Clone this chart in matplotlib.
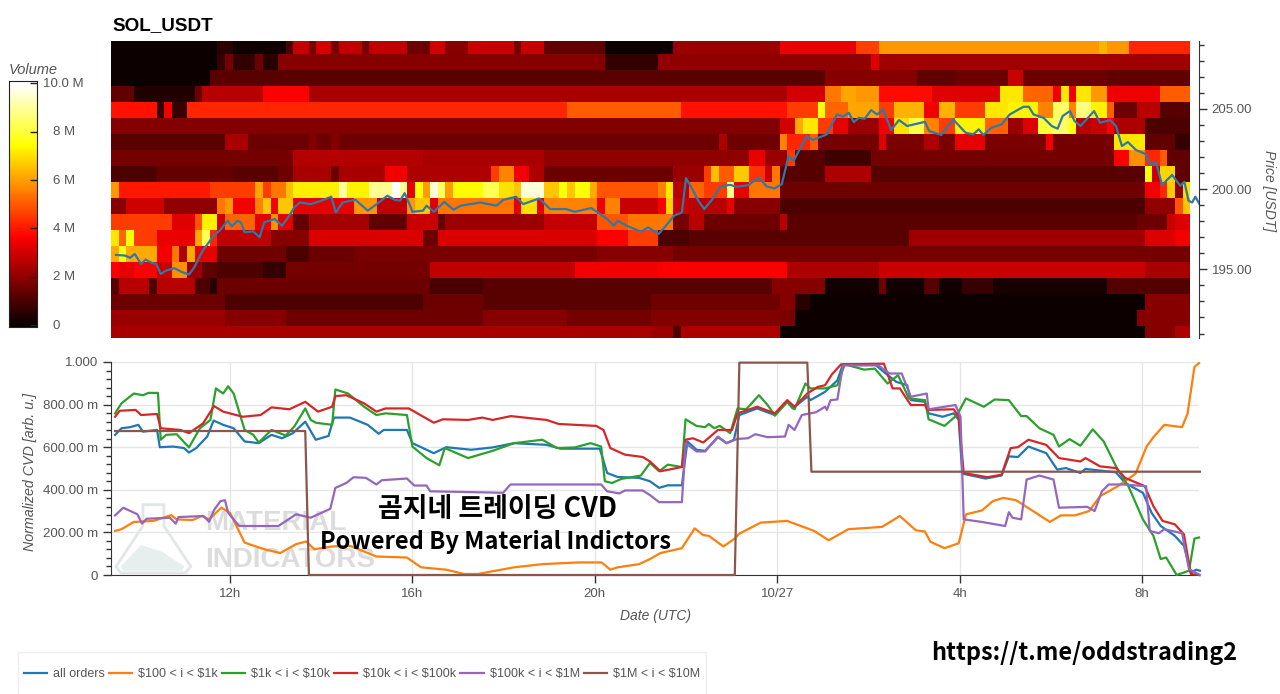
import numpy as np
import matplotlib
matplotlib.use("Agg")
import matplotlib.pyplot as plt
from matplotlib.lines import Line2D
from matplotlib.patches import Polygon, Rectangle
from matplotlib.ticker import FixedLocator, MultipleLocator
from matplotlib.transforms import ScaledTranslation

plt.rcParams['font.family'] = ['Liberation Sans', 'DejaVu Sans']

W, H = 1280, 694

# heatmap: each row is (first 10 min bin, volume in M) runs, 142 bins in all
n_bins = 142
bin_hours = 10 / 60
start_hour = 9.39
end_hour = 33.25
row_209 = [(0, .07), (14, .5), (16, .1), (23, 1.0), (24, 2.8), (26, 1.7), (27, 3.0), (29, 1.6), (30, 2.7), (33, 1.6), (34, 2.7), (39, 1.45), (42, 3.0), (44, 1.9), (47, 2.85), (53, 1.6), (54, 2.85), (57, 1.3), (65, .07), (74, 2.15), (88, 3.35), (98, 4.6), (101, 5.9), (130, 6.3), (131, 5.9), (134, 4.2)]
row_208 = [(0, .07), (14, .7), (15, 1.6), (16, .6), (19, 1.45), (20, .45), (22, 1.85), (65, .6), (72, 2.0), (100, 3.15), (101, 2.25)]
row_207 = [(0, .07), (13, 1.2), (94, 1.85), (106, 1.3), (111, 1.45), (118, 2.85), (120, 1.45), (131, 1.3)]
row_206 = [(0, 1.3), (3, .35), (11, 1.45), (12, 2.6), (20, 3.6), (26, 2.35), (89, 3.0), (94, 5.4), (96, 6.1), (98, 5.9), (101, 3.8), (108, 3.2), (112, 3.15), (117, 7.1), (120, 5.15), (124, 3.45), (125, 7.1), (126, 3.45), (127, 7.1), (129, 5.9), (131, 3.45), (132, 3.4), (138, 5.0)]
row_205 = [(0, 3.9), (6, .7), (7, 3.45), (8, .7), (10, 4.2), (60, 5.0), (75, 3.9), (89, 4.55), (93, 7.5), (94, 5.15), (97, 6.1), (101, 4.55), (103, 6.3), (107, 3.45), (109, 6.3), (111, 4.55), (115, 7.1), (118, 7.3), (122, 5.6), (124, 8.45), (126, 5.6), (127, 8.7), (129, 7.3), (131, 5.0), (132, 1.45), (135, 2.6), (138, 1.15)]
row_204 = [(0, 1.8), (88, 3.0), (90, 6.2), (91, 7.1), (93, 4.55), (95, 3.3), (97, 2.15), (101, 3.45), (103, 7.0), (105, 8.2), (107, 5.6), (109, 4.55), (111, 7.3), (115, 5.15), (118, 2.15), (120, 3.15), (122, 8.0), (124, 8.45), (126, 7.5), (127, 2.6), (129, 2.85), (131, 3.6), (132, 2.45), (136, 1.0)]
row_203 = [(0, 1.2), (15, 2.35), (18, 1.45), (26, 1.8), (27, 1.45), (29, 1.8), (30, 1.45), (80, 2.45), (81, 1.5), (88, 5.6), (89, 4.2), (92, 5.0), (93, 1.6), (101, 3.15), (102, 1.7), (107, 2.45), (109, 1.7), (111, 3.3), (115, 1.7), (123, 3.45), (124, 1.6), (132, 7.1), (136, 1.3), (140, .7)]
row_202 = [(0, 1.6), (24, 2.5), (41, 2.35), (57, 2.0), (84, 3.3), (86, 2.15), (89, 4.55), (90, 1.15), (94, .8), (100, 1.6), (132, 3.6), (134, 5.8), (136, 4.2), (138, 5.0), (139, 1.3)]
row_201 = [(0, 1.0), (6, 1.35), (16, 1.2), (22, 1.5), (24, 2.35), (29, 1.45), (30, 2.35), (36, 3.45), (39, 2.45), (50, 4.55), (51, 5.6), (53, 3.45), (55, 2.45), (57, 1.45), (74, 2.15), (78, 4.55), (79, 6.5), (80, 5.0), (82, 6.65), (84, 4.4), (86, 2.85), (87, 5.4), (88, 1.15), (94, 2.45), (100, 1.2), (136, 7.5), (137, 2.85), (138, 6.8), (140, 1.3)]
row_200 = [(0, 5.9), (1, 4.0), (13, 4.55), (19, 6.1), (20, 4.55), (21, 5.4), (23, 6.5), (24, 7.2), (30, 9.0), (31, 7.3), (34, 8.9), (37, 10.0), (38, 8.9), (39, 3.3), (40, 7.5), (41, 6.0), (42, 9.6), (43, 8.4), (44, 6.0), (45, 7.4), (49, 8.3), (51, 7.0), (53, 6.6), (54, 9.6), (57, 6.6), (59, 7.5), (60, 6.6), (61, 7.5), (63, 6.2), (64, 4.9), (72, 5.6), (73, 7.1), (74, 2.6), (76, 5.15), (78, 4.55), (81, 8.8), (82, 3.3), (84, 5.4), (88, 1.5), (136, 3.45), (138, 4.2), (139, 6.65), (140, 2.0), (141, 7.0)]
row_199 = [(0, 1.85), (2, 2.95), (7, 2.0), (14, 5.4), (15, 5.9), (16, 3.5), (19, 5.6), (20, 6.6), (21, 3.45), (22, 6.6), (24, 3.3), (32, 5.9), (35, 2.7), (39, 5.9), (40, 6.6), (42, 3.15), (43, 5.4), (53, 3.3), (54, 7.0), (56, 3.3), (57, 5.6), (64, 3.45), (65, 5.6), (67, 2.85), (72, 3.6), (73, 6.8), (74, 2.85), (76, 2.6), (81, 3.3), (82, 1.85), (88, 1.0), (136, 2.0), (140, 4.9), (141, 6.6)]
row_198 = [(0, 4.55), (8, 3.2), (11, 4.9), (12, 7.2), (14, 2.85), (15, 5.15), (19, 3.3), (21, 5.8), (22, 3.3), (24, 1.35), (26, 2.3), (34, 1.3), (39, 2.85), (43, 1.35), (44, 2.15), (57, 2.8), (64, 4.9), (68, 5.4), (74, 1.6), (76, 2.6), (78, 1.45), (88, 2.6), (89, 1.2), (135, 1.45), (139, 2.85), (140, 3.15)]
row_197 = [(0, 7.1), (1, 5.15), (2, 7.5), (3, 4.55), (6, 3.35), (11, 6.2), (12, 8.3), (13, 4.2), (14, 2.7), (21, 1.85), (26, 3.1), (41, 1.45), (43, 3.1), (64, 3.6), (68, 4.55), (72, 1.0), (76, 1.2), (105, 2.2), (136, 3.15), (140, 3.45)]
row_196 = [(0, 6.2), (1, 7.5), (2, 6.2), (6, 3.5), (8, 5.4), (9, 2.45), (10, 6.2), (11, 3.3), (14, 1.5), (23, 1.0), (26, 1.45), (32, 1.65), (64, 1.85), (74, 1.6)]
row_195 = [(0, 3.6), (1, 3.3), (3, 3.6), (6, 2.85), (8, 5.8), (10, 2.15), (12, 1.3), (14, 1.0), (20, .7), (23, 1.6), (42, 2.7), (61, 3.45), (72, 3.6), (89, 2.45), (101, 2.85), (136, 2.35)]
row_194 = [(0, 1.15), (1, 2.6), (5, 1.0), (6, 2.6), (11, 1.0), (13, .43), (14, 1.45), (42, .95), (49, 1.2), (87, 1.85), (94, .15), (101, 1.45), (102, .15), (107, 1.15), (109, .15), (112, .7), (116, .2), (131, 1.1)]
row_193 = [(0, 1.45), (15, 1.0), (41, 1.45), (49, 1.2), (71, 1.5), (88, 1.85), (90, .43), (92, .07), (136, 1.85)]
row_192 = [(0, 2.15), (15, 1.85), (23, 1.5), (49, 1.85), (60, 1.6), (71, 1.8), (88, 1.7), (90, .07), (135, 1.85)]
row_191 = [(0, 2.35), (71, 2.15), (74, 1.0), (75, 2.45), (88, .07), (136, 1.85), (140, 2.45)]
heat_rows = [row_191, row_192, row_193, row_194, row_195, row_196, row_197, row_198, row_199, row_200,
             row_201, row_202, row_203, row_204, row_205, row_206, row_207, row_208, row_209]
price_levels = np.arange(191, 210)

# price line
price_t = [9.50, 9.70, 9.81, 9.91, 10.05, 10.15, 10.28, 10.38, 10.48, 10.60, 10.78, 10.95, 11.10, 11.22, 11.38, 11.64, 11.77, 11.95, 12.04, 12.16, 12.24, 12.32, 12.51, 12.65, 12.75, 12.98, 13.14, 13.30, 13.41, 13.53, 13.77, 14.0, 14.22, 14.32, 14.47, 14.75, 15.02, 15.22, 15.45, 15.61, 15.73, 15.83, 15.92, 16.0, 16.23, 16.31, 16.47, 16.70, 16.90, 17.06, 17.49, 17.84, 18.0, 18.27, 18.43, 18.78, 19.02, 19.37, 19.56, 19.92, 20.07, 20.27, 20.42, 20.50, 20.70, 21.01, 21.17, 21.40, 21.56, 21.74, 21.91, 22.0, 22.14, 22.27, 22.40, 22.58, 22.75, 22.97, 23.10, 23.37, 23.59, 23.77, 23.94, 24.10, 24.25, 24.36, 24.51, 24.65, 24.78, 25.09, 25.31, 25.44, 25.57, 25.68, 25.79, 25.92, 26.06, 26.19, 26.32, 26.50, 26.67, 26.85, 27.24, 27.33, 27.60, 27.86, 28.13, 28.30, 28.42, 28.52, 28.70, 28.92, 29.10, 29.40, 29.52, 29.62, 29.84, 30.02, 30.15, 30.26, 30.42, 30.52, 30.65, 30.95, 31.08, 31.30, 31.43, 31.56, 31.69, 31.87, 32.09, 32.18, 32.31, 32.44, 32.53, 32.66, 32.84, 32.93, 33.02, 33.10, 33.17, 33.26]
price_v = [195.90, 195.86, 195.72, 195.96, 195.34, 195.61, 195.41, 195.34, 194.72, 194.93, 195.07, 194.83, 194.68, 195.14, 196.07, 197.10, 197.41, 198.03, 197.68, 198.03, 197.93, 197.31, 197.37, 197.0, 197.93, 198.14, 197.72, 198.35, 198.86, 199.17, 199.07, 199.28, 199.53, 198.55, 199.17, 199.34, 198.66, 199.07, 199.59, 199.34, 199.28, 199.75, 199.17, 198.59, 198.66, 198.97, 198.59, 199.21, 198.72, 198.97, 199.17, 198.97, 199.34, 199.53, 199.07, 199.42, 198.76, 198.76, 198.59, 198.82, 198.55, 198.14, 197.72, 198.03, 197.72, 197.35, 197.62, 197.21, 197.72, 198.35, 198.55, 200.69, 200.0, 199.28, 198.76, 199.38, 200.17, 200.27, 200.15, 200.25, 200.73, 200.17, 200.04, 200.31, 202.07, 201.76, 202.59, 203.31, 203.07, 203.42, 204.66, 204.52, 204.76, 204.18, 204.45, 204.39, 204.93, 204.66, 204.97, 203.69, 204.31, 203.94, 204.2, 203.63, 203.38, 204.35, 203.52, 203.42, 203.73, 203.38, 203.83, 204.04, 204.66, 205.14, 205.14, 204.66, 204.45, 203.94, 203.77, 204.56, 204.87, 204.25, 203.94, 204.87, 204.14, 204.31, 203.94, 202.69, 202.94, 202.44, 202.18, 201.55, 201.66, 200.25, 200.52, 200.89, 200.21, 200.46, 199.28, 199.17, 199.53, 199.07]

# normalized CVD series
all_t = [9.48, 9.62, 9.81, 9.99, 10.09, 10.40, 10.46, 10.75, 10.99, 11.10, 11.26, 11.50, 11.64, 11.85, 12.08, 12.32, 12.63, 12.91, 13.14, 13.38, 13.65, 13.88, 14.16, 14.28, 14.63, 15.02, 15.26, 15.37, 15.88, 16.0, 16.47, 16.74, 17.29, 17.76, 18.23, 18.94, 19.25, 20.11, 20.27, 20.50, 20.97, 21.21, 21.41, 21.60, 21.91, 22.03, 22.23, 22.42, 22.70, 22.89, 23.05, 23.17, 23.56, 23.95, 24.22, 24.34, 24.66, 24.73, 25.05, 25.32, 25.44, 26.14, 26.38, 26.61, 26.85, 26.93, 27.24, 27.32, 27.63, 27.87, 27.98, 28.06, 28.57, 28.92, 29.08, 29.28, 29.51, 29.90, 30.14, 30.33, 30.65, 30.76, 31.43, 31.63, 32.02, 32.21, 32.41, 32.72, 32.92, 33.07, 33.19, 33.27]
all_v = [.658, .689, .694, .705, .673, .681, .600, .603, .596, .575, .596, .650, .725, .705, .689, .627, .619, .658, .642, .666, .720, .635, .653, .739, .739, .705, .663, .681, .681, .619, .572, .600, .588, .599, .619, .611, .593, .593, .479, .460, .456, .440, .409, .421, .421, .627, .588, .583, .647, .619, .635, .751, .782, .751, .813, .782, .837, .821, .860, .914, .989, .989, .946, .907, .891, .821, .813, .759, .743, .759, .728, .476, .453, .467, .557, .554, .603, .572, .495, .502, .479, .498, .482, .432, .386, .292, .230, .184, .137, .012, .025, .02]
k1_t = [9.48, 9.62, 9.89, 10.32, 10.71, 10.83, 11.18, 11.38, 11.54, 11.81, 12.0, 12.32, 12.75, 13.10, 13.45, 13.67, 13.85, 14.24, 14.63, 15.21, 15.88, 16.19, 16.74, 17.13, 17.44, 18.23, 18.85, 19.64, 20.15, 20.34, 20.50, 20.97, 21.21, 21.44, 21.91, 22.19, 22.38, 22.50, 22.82, 23.05, 23.17, 23.64, 24.22, 24.81, 25.13, 25.56, 26.30, 26.69, 27.04, 27.24, 27.36, 27.67, 27.98, 28.14, 28.49, 28.73, 28.96, 29.24, 29.67, 29.98, 30.22, 30.53, 30.84, 31.08, 31.47, 31.86, 32.10, 32.25, 32.49, 32.88, 33.0, 33.15, 33.25]
k1_v = [.207, .215, .249, .254, .281, .261, .258, .277, .261, .316, .292, .152, .121, .103, .145, .157, .121, .134, .137, .087, .082, .036, .025, .005, .005, .036, .051, .059, .059, .025, .036, .051, .075, .103, .126, .219, .187, .184, .134, .168, .194, .246, .254, .207, .163, .215, .226, .277, .21, .204, .156, .126, .149, .285, .303, .347, .362, .351, .292, .249, .28, .28, .30, .37, .417, .476, .603, .647, .705, .694, .759, .977, .995]
k10_t = [9.48, 9.62, 9.89, 10.09, 10.21, 10.42, 10.48, 10.60, 10.83, 11.10, 11.34, 11.57, 11.69, 11.85, 11.96, 12.08, 12.32, 12.51, 12.63, 12.91, 13.22, 13.41, 13.65, 13.77, 13.88, 14.24, 14.31, 14.59, 14.94, 15.21, 15.41, 15.88, 16.0, 16.31, 16.59, 16.71, 17.22, 17.76, 18.23, 18.85, 19.17, 19.56, 19.91, 20.14, 20.22, 20.38, 20.58, 21.01, 21.21, 21.41, 21.60, 21.91, 21.99, 22.23, 22.42, 22.5, 22.62, 22.74, 22.97, 23.13, 23.32, 23.60, 23.79, 23.95, 24.22, 24.38, 24.62, 24.73, 25.05, 25.32, 25.48, 25.91, 26.14, 26.42, 26.65, 26.89, 27.24, 27.32, 27.67, 27.94, 28.14, 28.53, 28.77, 29.08, 29.35, 29.47, 29.75, 30.06, 30.18, 30.41, 30.65, 30.92, 31.16, 31.43, 31.70, 32.02, 32.25, 32.41, 32.53, 32.76, 33.03, 33.15, 33.25]
k10_v = [.759, .806, .852, .844, .855, .855, .635, .658, .661, .599, .689, .728, .876, .852, .886, .852, .681, .658, .622, .681, .655, .697, .782, .728, .715, .705, .871, .852, .790, .751, .759, .751, .603, .549, .515, .596, .549, .583, .619, .635, .596, .599, .619, .603, .440, .432, .451, .467, .526, .487, .518, .507, .731, .70, .694, .709, .689, .70, .666, .782, .778, .844, .798, .748, .813, .778, .899, .876, .876, .891, .989, .964, .969, .899, .938, .829, .821, .731, .70, .751, .829, .79, .824, .821, .746, .746, .689, .658, .603, .638, .607, .684, .627, .51, .417, .261, .184, .075, .082, 0, .02, .171, .176]
k100_t = [9.48, 9.58, 9.93, 10.05, 10.40, 10.48, 10.91, 11.10, 11.41, 11.65, 11.85, 12.28, 12.67, 12.91, 13.30, 13.65, 13.93, 14.24, 14.31, 14.55, 14.94, 15.21, 15.41, 15.92, 16.47, 16.67, 17.22, 17.53, 17.76, 18.16, 18.94, 19.21, 20.03, 20.19, 20.34, 20.66, 21.05, 21.21, 21.44, 21.91, 21.99, 22.15, 22.38, 22.70, 23.01, 23.13, 23.56, 23.95, 24.22, 24.38, 24.66, 24.89, 25.05, 25.20, 25.40, 26.34, 26.53, 26.69, 26.93, 27.24, 27.30, 27.87, 27.98, 28.09, 28.61, 28.92, 29.12, 29.28, 29.51, 29.90, 30.18, 30.65, 30.76, 31.08, 31.43, 31.63, 32.06, 32.25, 32.45, 32.72, 32.92, 33.07, 33.25]
k100_v = [.743, .771, .775, .751, .756, .689, .681, .666, .712, .793, .767, .743, .751, .787, .778, .813, .767, .79, .84, .844, .806, .767, .782, .782, .715, .731, .728, .739, .728, .746, .728, .709, .70, .681, .596, .565, .554, .533, .487, .507, .635, .642, .622, .681, .681, .759, .79, .759, .821, .79, .852, .883, .891, .942, .989, .992, .876, .876, .798, .798, .775, .778, .743, .479, .459, .471, .596, .60, .635, .611, .549, .533, .549, .51, .502, .456, .417, .323, .254, .238, .191, .005, 0]
m1_t = [9.48, 9.66, 9.97, 10.07, 10.17, 10.68, 10.81, 10.87, 11.42, 11.54, 11.65, 11.79, 11.89, 11.96, 12.20, 13.06, 13.45, 13.77, 14.20, 14.31, 14.55, 14.71, 14.98, 15.21, 15.33, 15.88, 16.04, 16.31, 16.39, 17.99, 18.15, 20.14, 20.27, 20.54, 20.66, 21.05, 21.21, 21.41, 21.91, 21.99, 22.23, 22.42, 22.70, 22.89, 23.13, 23.36, 23.52, 23.79, 24.17, 24.25, 24.38, 24.54, 24.85, 25.05, 25.09, 25.17, 25.32, 25.44, 26.22, 26.46, 26.73, 26.93, 27.28, 27.32, 27.91, 28.02, 28.09, 28.49, 29.0, 29.08, 29.16, 29.35, 29.47, 29.75, 30.06, 30.18, 30.80, 30.96, 31.12, 31.27, 31.59, 32.09, 32.17, 32.37, 32.49, 32.88, 33.03, 33.27]
m1_v = [.28, .316, .285, .241, .264, .269, .241, .272, .277, .25, .305, .347, .351, .292, .23, .23, .285, .269, .311, .409, .432, .459, .456, .425, .445, .453, .42, .42, .393, .386, .425, .425, .393, .383, .397, .397, .375, .342, .342, .619, .58, .58, .65, .619, .639, .642, .661, .647, .65, .705, .681, .751, .764, .79, .775, .821, .824, .984, .984, .946, .946, .837, .852, .778, .798, .743, .261, .249, .23, .295, .269, .261, .448, .467, .448, .316, .32, .30, .393, .425, .425, .417, .207, .196, .215, .196, .028, 0]
m10_t = [9.48, 13.65, 13.73, 23.07, 23.17, 24.66, 24.75, 33.27]
m10_v = [.676, .676, 0, 0, .997, .997, .485, .485]

series_names = ['all orders', r'\$100 < i < \$1k', r'\$1k < i < \$10k', r'\$10k < i < \$100k',
                r'\$100k < i < \$1M', r'\$1M < i < \$10M']
series_colors = ['#1f77b4', '#ff7f0e', '#2ca02c', '#d62728', '#9467bd', '#8c564b']
series_data = [(all_t, all_v), (k1_t, k1_v), (k10_t, k10_v), (k100_t, k100_v), (m1_t, m1_v), (m10_t, m10_v)]

hour_ticks = [12, 16, 20, 24, 28, 32]
hour_labels = ['12h', '16h', '20h', '10/27', '4h', '8h']
cvd_ticks = [0, .2, .4, .6, .8, 1.0]
cvd_labels = ['0', '200.00 m', '400.00 m', '600.00 m', '800.00 m', '1.000']
cbar_ticks = [0, 2, 4, 6, 8, 10]
cbar_labels = ['0', '2 M', '4 M', '6 M', '8 M', '10.0 M']


def px_axes(fig, left, top, right, bottom):
    return fig.add_axes([left / W, 1 - bottom / H, (right - left) / W, (bottom - top) / H])


def expand(row):
    out = np.zeros(n_bins)
    starts = [r[0] for r in row] + [n_bins]
    for i in range(len(row)):
        out[starts[i]:starts[i + 1]] = row[i][1]
    return out


TICK = '#333333'
LABEL = '#555555'

fig = plt.figure(figsize=(W / 100, H / 100), dpi=100)

# top heatmap
ax = px_axes(fig, 111, 41, 1199, 338)
volume = np.array([expand(r) for r in heat_rows])
x_edges = start_hour + np.arange(n_bins + 1) * bin_hours
y_edges = np.append(price_levels - 0.56, price_levels[-1] + 0.44)
ax.pcolormesh(x_edges, y_edges, volume, cmap='hot', vmin=0, vmax=10, shading='flat')
ax.plot(price_t, price_v, color='#2f78a8', lw=1.6, solid_joinstyle='round')
ax.set_xlim(start_hour, end_hour)
ax.set_ylim(190.72, 209.24)
ax.yaxis.tick_right()
ax.yaxis.set_major_locator(MultipleLocator(5))
ax.yaxis.set_minor_locator(MultipleLocator(1))
ax.yaxis.set_major_formatter(lambda v, pos: f'{v:.2f}')
ax.tick_params(axis='y', which='major', length=6, width=1, color=TICK, labelcolor=LABEL, labelsize=9.5, pad=3)
ax.tick_params(axis='y', which='minor', length=3.5, width=1, color=TICK)
ax.set_xticks([])
for side in ['top', 'left', 'bottom']:
    ax.spines[side].set_visible(False)
ax.spines['right'].set_color(TICK)
ax.set_title('SOL_USDT', loc='left', fontsize=13.6, fontweight='bold', x=0.001, pad=8)
fig.text(1269 / W, 1 - 191 / H, 'Price [USDT]', rotation=-90, style='italic', fontsize=10, color=LABEL,
         ha='center', va='center')

# colorbar
cax = px_axes(fig, 9, 81, 37, 327)
grad = np.linspace(-0.08, 10.1, 256).reshape(-1, 1)
cax.imshow(grad, origin='lower', aspect='auto', cmap='hot', vmin=0, vmax=10, extent=[0, 1, -0.08, 10.1])
cax.set_xticks([])
cax.yaxis.tick_right()
cax.set_yticks(cbar_ticks, cbar_labels)
cax.tick_params(axis='y', direction='in', length=5, width=1, color='#222222', labelcolor=LABEL, labelsize=9.5, pad=7)
for t in cax.get_yticklabels():
    t.set_ha('center')
    shift = -8 / 100 if t.get_text() == '0' else 0
    t.set_transform(t.get_transform() + ScaledTranslation(17 / 100 + shift, 1 / 100, fig.dpi_scale_trans))
for s in cax.spines.values():
    s.set_color('#222222')
fig.text(9 / W, 1 - 70 / H, 'Volume', style='italic', fontsize=10.5, color=LABEL, ha='left', va='center')

# bottom CVD
bx = px_axes(fig, 111, 362, 1199, 575)
bx.set_xlim(start_hour, end_hour)
bx.set_ylim(0, 1.0)
bx.grid(True, color='#e6e6e6', lw=1)
bx.set_axisbelow(True)

# watermark under the lines
flask = Polygon([(10.09, .33), (10.55, .33), (10.55, .23), (11.14, .04), (11.02, .01), (9.6, .01), (9.5, .04), (10.09, .23)],
                closed=True, fc='none', ec='#e3e6e6', lw=2, zorder=1)
bx.add_patch(flask)
flask_fill = Polygon([(9.6, .04), (10.05, .14), (10.5, .11), (11.0, .04), (10.95, .02), (9.65, .02)],
                     closed=True, fc='#e6eeee', ec='none', zorder=1)
bx.add_patch(flask_fill)
bx.text(11.45, .244, 'MATERIAL', color='#dcdcdc', fontsize=20, fontweight='bold', ha='left', va='center', zorder=1)
bx.text(11.45, .07, 'INDICATORS', color='#dcdcdc', fontsize=20, fontweight='bold', ha='left', va='center', zorder=1)

for (t, v), c in zip(series_data, series_colors):
    bx.plot(t, v, color=c, lw=1.6, solid_joinstyle='round', zorder=3, clip_on=False)

bx.set_xticks(hour_ticks, hour_labels)
bx.set_yticks(cvd_ticks, cvd_labels)
bx.yaxis.set_minor_locator(FixedLocator(np.arange(0, 1.01, .04)))
bx.xaxis.set_minor_locator(FixedLocator([]))
bx.tick_params(axis='both', which='major', length=6, width=1, color=TICK, labelcolor=LABEL, labelsize=9.5)
bx.tick_params(axis='y', which='minor', length=3.5, width=1, color=TICK)
for side in ['top', 'right']:
    bx.spines[side].set_visible(False)
bx.spines['left'].set_color(TICK)
bx.spines['bottom'].set_color(TICK)
fig.text(655 / W, 1 - 616 / H, 'Date (UTC)', style='italic', fontsize=10, color=LABEL, ha='center', va='center')
fig.text(30 / W, 1 - 472 / H, 'Normalized CVD [arb. u.]', rotation=90, style='italic', fontsize=10.3, color=LABEL,
         ha='center', va='center')

# overlaid captions
cap_font = ['Noto Sans CJK KR', 'DejaVu Sans']
fig.text(497 / W, 1 - 509 / H, '곰지네 트레이딩 CVD', family=cap_font, fontweight='bold', fontsize=19.4, ha='center', va='center',
         color='black', zorder=5)
fig.text(495 / W, 1 - 542 / H, 'Powered By Material Indictors', family=cap_font, fontweight='bold', fontsize=17, ha='center',
         va='center', color='black', zorder=5)
fig.text(1084 / W, 1 - 653 / H, 'https://t.me/oddstrading2', family=cap_font, fontweight='bold', fontsize=16.9, ha='center',
         va='center', color='black', zorder=5)

# legend box goes off the bottom of the picture
fig.patches.append(Rectangle((18 / W, 1 - 700 / H), 688 / W, 48 / H, transform=fig.transFigure, fc='white', ec='#eeeeee', lw=1))
handles = [Line2D([], [], color=c, lw=1.6) for c in series_colors]
fig.legend(handles, series_names, ncol=6, loc='center', bbox_to_anchor=(362 / W, 1 - 674 / H), frameon=False,
           fontsize=9, handlelength=1.85, handletextpad=0.48, columnspacing=0.32, labelcolor=LABEL)

fig.savefig('out.png', dpi=100)
